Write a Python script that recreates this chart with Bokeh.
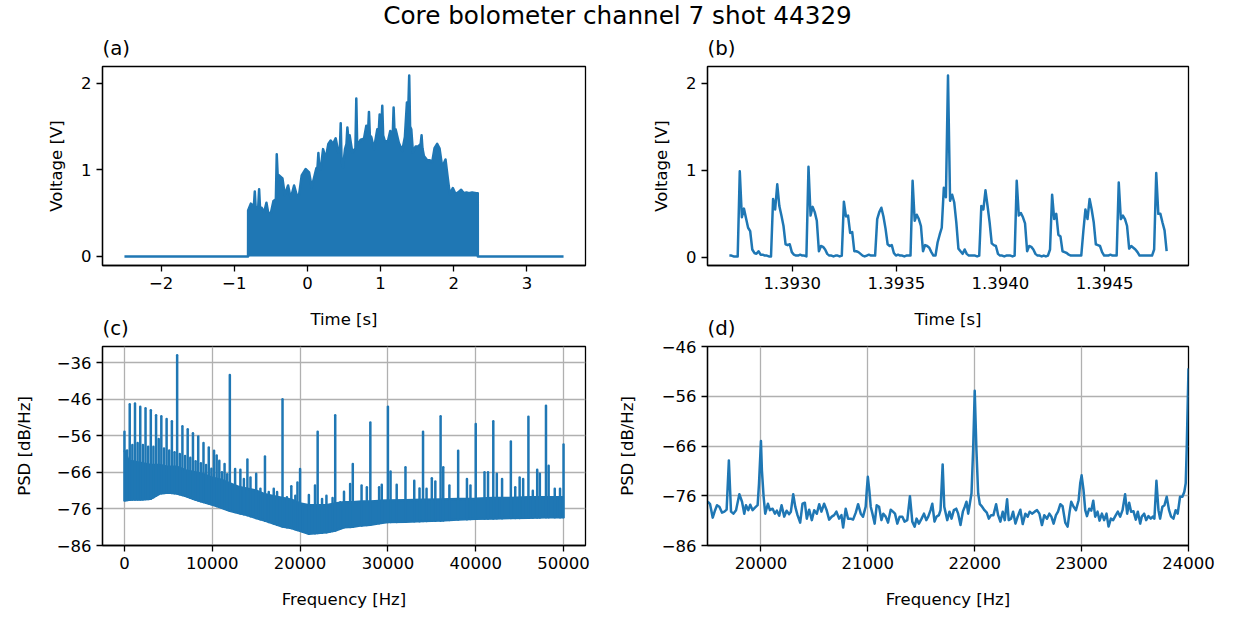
import numpy as np
from bokeh.plotting import figure
from bokeh.layouts import column, row
from bokeh.models import Range1d, FixedTicker, CustomJSTickFormatter, Label
from bokeh.embed import file_html
from bokeh.resources import INLINE

BLUE = "#1f77b4"
FONT = "DejaVu Sans"
TICK_PX = "16.5px"
TITLE_PX = "19.8px"
SUPTITLE_PX = "24.7px"
LW = 2.5

SUPTITLE = "Core bolometer channel 7 shot 44329"

# ---------------- (a) full shot: envelope of the bolometer burst ----------------
a_time = [-2.5, -0.811, -0.810, -0.773, -0.742, -0.730, -0.719, -0.708, -0.696, -0.672,
          -0.660, -0.648, -0.623, -0.591, -0.560, -0.537, -0.500, -0.464, -0.431, -0.419,
          -0.407, -0.387, -0.341, -0.309, -0.264, -0.228, -0.182, -0.146, -0.114, -0.078,
          -0.023, 0.023, 0.059, 0.091, 0.123, 0.138, 0.150, 0.162, 0.182, 0.214,
          0.250, 0.286, 0.318, 0.350, 0.386, 0.423, 0.443, 0.455, 0.467, 0.486,
          0.514, 0.534, 0.546, 0.558, 0.577, 0.614, 0.656, 0.668, 0.680, 0.696,
          0.728, 0.773, 0.805, 0.829, 0.841, 0.853, 0.873, 0.909, 0.955, 0.975,
          0.987, 1.011, 1.023, 1.035, 1.059, 1.100, 1.132, 1.166, 1.178, 1.190,
          1.205, 1.250, 1.296, 1.332, 1.360, 1.380, 1.391, 1.403, 1.419, 1.442,
          1.478, 1.514, 1.548, 1.560, 1.572, 1.592, 1.637, 1.673, 1.705, 1.737,
          1.773, 1.805, 1.842, 1.887, 1.919, 1.946, 1.987, 2.024, 2.060, 2.101,
          2.137, 2.174, 2.206, 2.251, 2.306, 2.328, 2.329, 3.5]
a_volt = [0.0, 0.0, 0.53, 0.61, 0.59, 0.60, 0.75, 0.58, 0.56, 0.57,
          0.775, 0.57, 0.56, 0.51, 0.62, 0.51, 0.50, 0.64, 0.66, 1.18,
          0.95, 0.935, 0.90, 0.71, 0.82, 0.67, 0.82, 0.71, 0.71, 0.935,
          1.01, 0.97, 0.80, 0.91, 1.02, 1.03, 1.195, 1.02, 1.01, 1.24,
          1.13, 1.30, 1.34, 1.30, 1.365, 1.20, 1.22, 1.54, 1.10, 1.03,
          1.24, 1.30, 1.49, 1.38, 1.40, 1.20, 1.25, 1.824, 1.30, 1.30,
          1.35, 1.36, 1.51, 1.45, 1.67, 1.40, 1.38, 1.24, 1.47, 1.45,
          1.64, 1.50, 1.74, 1.40, 1.33, 1.33, 1.45, 1.40, 1.72, 1.45,
          1.47, 1.31, 1.22, 1.38, 1.78, 1.75, 2.09, 1.50, 1.47, 1.20,
          1.27, 1.27, 1.30, 1.40, 1.25, 1.16, 1.11, 1.11, 1.09, 1.25,
          1.30, 1.25, 1.03, 1.12, 0.90, 0.72, 0.79, 0.72, 0.74, 0.77,
          0.73, 0.74, 0.73, 0.74, 0.73, 0.73, 0.0, 0.0]

# ---------------- (b) zoom: samples every 10 us ----------------
b_t0 = 1.392698
b_dt = 1.0e-5
b_volt = [0.02, 0.02, 0.01, 0.01, 0.01, 0.99, 0.46, 0.56, 0.45, 0.34, 0.30, 0.09, 0.05, 0.04, 0.07, 0.03, 0.03, 0.02, 0.02, 0.01, 0.01,
          0.67, 0.55, 0.84, 0.59, 0.48, 0.36, 0.15, 0.14, 0.15, 0.06, 0.03, 0.02, 0.02, 0.03, 0.02, 0.02, 0.01,
          1.04, 0.48, 0.58, 0.52, 0.42, 0.07, 0.13, 0.12, 0.09, 0.04, 0.02, 0.02, 0.01, 0.02, 0.02, 0.01, 0.02,
          0.64, 0.47, 0.48, 0.28, 0.29, 0.07, 0.07, 0.06, 0.04, 0.02, 0.01, 0.02, 0.03, 0.02, 0.02, 0.02,
          0.44, 0.52, 0.57, 0.47, 0.33, 0.15, 0.13, 0.14, 0.05, 0.02, 0.03, 0.02, 0.02, 0.01, 0.02, 0.02, 0.02,
          0.88, 0.42, 0.49, 0.44, 0.36, 0.07, 0.14, 0.13, 0.11, 0.06, 0.02, 0.02,
          0.17, 0.26, 0.34, 0.80, 0.69, 2.09, 0.65, 0.72, 0.63, 0.40, 0.10, 0.07, 0.04, 0.09, 0.04, 0.02, 0.02, 0.02, 0.02, 0.01, 0.02,
          0.59, 0.55, 0.77, 0.59, 0.40, 0.16, 0.14, 0.13, 0.04, 0.02, 0.02, 0.01, 0.02, 0.02, 0.02, 0.01, 0.02,
          0.88, 0.48, 0.51, 0.46, 0.39, 0.07, 0.13, 0.12, 0.09, 0.04, 0.02, 0.02, 0.01, 0.02, 0.01, 0.02, 0.09,
          0.72, 0.44, 0.50, 0.26, 0.24, 0.07, 0.06, 0.05, 0.03, 0.02, 0.02, 0.02, 0.02, 0.02, 0.02, 0.30,
          0.55, 0.44, 0.67, 0.55, 0.40, 0.15, 0.14, 0.13, 0.06, 0.02, 0.02, 0.02, 0.03, 0.02, 0.02, 0.02,
          0.86, 0.44, 0.48, 0.44, 0.36, 0.10, 0.13, 0.11, 0.09, 0.06, 0.02, 0.02, 0.02, 0.02, 0.02, 0.02, 0.02, 0.09,
          0.97, 0.50, 0.50, 0.40, 0.31, 0.07]
b_time = b_t0 + b_dt * np.arange(len(b_volt))

# ---------------- (c) PSD 0-50 kHz: noise band + harmonic lines ----------------
c_band_freq = [0, 500, 1000, 2000, 3000, 4000, 5000, 6000, 7000, 8000, 9000, 10000, 11000, 12000,
               13000, 14000, 15000, 16000, 17000, 18000, 19000, 20000, 21000, 22000, 23000, 24000,
               25000, 26000, 27000, 28000, 29000, 30000, 32000, 34000, 36000, 38000, 40000, 42000,
               44000, 46000, 48000, 50000]
c_band_low = [-73.7, -73.5, -73.4, -73.4, -73.2, -71.8, -71.5, -71.8, -72.5, -73.4, -74.1, -74.8, -75.6, -76.5,
              -77.1, -77.7, -78.5, -79.2, -80.0, -80.8, -81.2, -82.0, -82.8, -82.6, -82.4, -81.9,
              -81.0, -80.9, -80.5, -80.3, -79.9, -79.6, -79.5, -79.3, -79.2, -78.9, -78.7, -78.6,
              -78.5, -78.4, -78.3, -78.3]
c_band_high = [-60.0, -63.0, -63.0, -63.5, -64.0, -64.0, -64.5, -64.5, -65.5, -66.0, -66.5, -67.5, -68.0, -69.0,
               -70.0, -70.5, -71.0, -72.0, -72.5, -73.0, -73.5, -74.5, -75.0, -75.0, -75.0, -74.5,
               -74.2, -74.2, -74.0, -74.0, -73.8, -73.7, -73.6, -73.5, -73.4, -73.3, -73.2, -73.0,
               -73.0, -72.8, -72.8, -72.8]
c_peak_freq = [0, 600, 1200, 1800, 2400, 3000, 3600, 4200, 4800, 5400, 6000, 6600, 7200, 7800, 8400,
               9000, 9600, 10200, 10800, 11400, 12000, 12600, 13200,
               14000, 15000, 16000, 17000, 18000, 19000, 20000, 21000, 22000, 23000, 24000, 25000,
               26000, 27000, 28000, 29000, 30000, 31000, 32000, 33000, 34000, 35000, 36000, 37000,
               38000, 39000, 40000, 41000, 42000, 43000, 44000, 45000, 46000, 47000, 48000, 49000, 50000]
c_peak_db = [-54.9, -47.4, -47.2, -48.1, -48.5, -49.0, -50.4, -50.7, -51.4, -52.0, -34.0, -53.4, -54.2, -55.3, -56.2,
             -58.0, -59.2, -60.1, -62.8, -63.7, -39.4, -65.1, -65.3,
             -62.5, -66.4, -61.7, -70.5, -46.0, -69.8, -65.1, -72.2, -54.9, -72.4, -50.4, -71.3,
             -63.7, -69.6, -52.4, -70.1, -48.1, -69.4, -64.6, -68.3, -54.9, -67.6, -50.7, -69.6,
             -60.1, -67.8, -52.8, -66.0, -52.0, -67.8, -57.6, -67.4, -50.8, -65.3, -47.8, -70.5, -58.4]
c_minor_freq = [300, 900, 1500, 2100, 2700, 3300, 3900, 4500, 5100, 5700, 6300, 6900, 7500, 8100, 8700,
                9300, 9900, 10500, 11100, 11700,
                13600, 14350, 15480, 16430, 17380, 18500, 19460, 19700, 20300, 21700, 22500, 23400, 23700,
                24580, 25700, 27600, 29300, 30300, 33600, 34400, 35400, 36300, 39400, 41400, 42400,
                44500, 45400, 46500, 47300, 48300, 49600]
c_minor_db = [-60.0, -58.5, -58.0, -58.5, -59.0, -59.0, -56.9, -59.5, -60.0, -60.5, -61.0, -61.5, -62.0, -63.0, -63.5,
              -64.0, -65.0, -61.4, -66.0, -66.5,
              -67.8, -67.4, -70.5, -71.4, -71.4, -72.8, -72.4, -68.8, -75.7, -69.6, -73.3, -75.7, -73.0,
              -74.2, -69.2, -70.1, -69.4, -65.8, -70.4, -70.5, -68.5, -64.6, -69.6, -66.0, -66.4,
              -70.1, -67.8, -71.0, -66.4, -64.2, -70.5]

# ---------------- (d) PSD zoom 19.5-24 kHz ----------------
d_freq = [19502, 19524, 19549, 19571, 19589, 19611, 19636, 19658, 19679, 19700, 19720, 19742, 19767, 19798,
          19823, 19844, 19860, 19882, 19900, 19922, 19944, 19969, 19982, 20000, 20009, 20025, 20040, 20065,
          20084, 20109, 20131, 20149, 20171, 20193, 20218, 20240, 20264, 20280, 20302, 20321, 20342, 20367,
          20389, 20411, 20429, 20451, 20476, 20498, 20523, 20545, 20566, 20591, 20613, 20638, 20663, 20685,
          20706, 20731, 20753, 20769, 20793, 20815, 20840, 20862, 20887, 20909, 20934, 20955, 20980, 20990,
          21000, 21014, 21027, 21043, 21064, 21083, 21105, 21127, 21145, 21167, 21189, 21214, 21235, 21254,
          21276, 21298, 21323, 21344, 21369, 21394, 21416, 21438, 21456, 21478, 21503, 21525, 21547, 21565,
          21587, 21603, 21624, 21643, 21665, 21680, 21700, 21715, 21743, 21764, 21783, 21805, 21827, 21845,
          21867, 21889, 21907, 21923, 21939, 21954, 21970, 21985, 22000, 22016, 22032, 22048, 22069, 22091,
          22113, 22132, 22153, 22175, 22200, 22219, 22240, 22262, 22281, 22303, 22318, 22340, 22359, 22381,
          22402, 22427, 22449, 22474, 22496, 22514, 22536, 22561, 22583, 22605, 22629, 22651, 22676, 22698,
          22717, 22738, 22760, 22779, 22801, 22822, 22847, 22869, 22888, 22903, 22925, 22947, 22972, 22987,
          23000, 23018, 23034, 23050, 23071, 23090, 23109, 23127, 23149, 23168, 23190, 23211, 23233, 23252,
          23274, 23295, 23320, 23339, 23361, 23383, 23407, 23426, 23445, 23463, 23485, 23507, 23526, 23548,
          23563, 23585, 23604, 23625, 23647, 23666, 23681, 23700, 23719, 23734, 23756, 23775, 23796, 23818,
          23837, 23859, 23880, 23899, 23921, 23943, 23961, 23974, 23983, 24000]
d_psd = [-77.2, -77.7, -80.4, -78.9, -77.9, -78.2, -79.4, -79.2, -78.8, -68.9, -79.2, -79.6, -78.9, -75.7,
         -77.2, -79.6, -77.9, -78.9, -77.8, -78.9, -78.4, -77.9, -73.5, -65.0, -70.9, -76.2, -79.6, -77.6,
         -78.9, -78.6, -79.6, -79.0, -80.0, -77.9, -80.2, -79.0, -79.7, -79.2, -75.7, -78.2, -79.9, -81.4,
         -77.6, -77.4, -80.6, -78.8, -80.9, -78.9, -79.6, -77.7, -79.2, -77.6, -78.8, -80.8, -80.2, -79.9,
         -79.2, -80.6, -79.9, -82.4, -78.6, -80.6, -80.6, -80.8, -79.4, -77.7, -79.6, -80.2, -78.2, -74.9,
         -72.2, -74.9, -78.2, -79.6, -81.6, -77.9, -78.2, -80.9, -79.6, -80.2, -81.4, -78.8, -79.2, -79.6,
         -81.6, -80.2, -80.2, -81.2, -80.9, -76.1, -81.2, -82.2, -80.6, -81.6, -80.6, -79.6, -80.9, -80.2,
         -78.9, -77.6, -81.2, -80.2, -79.9, -78.9, -69.7, -78.2, -80.9, -79.2, -80.6, -78.9, -78.6, -79.6,
         -81.9, -79.2, -78.2, -77.2, -79.6, -77.6, -75.5, -66.8, -54.9, -66.8, -75.5, -77.7, -78.2, -78.9,
         -79.4, -80.6, -79.9, -79.9, -77.7, -79.9, -81.2, -79.2, -80.9, -76.7, -80.9, -80.6, -79.2, -81.6,
         -80.2, -78.8, -81.7, -79.6, -80.2, -79.2, -79.6, -79.2, -78.9, -79.6, -81.9, -79.9, -80.6, -79.6,
         -80.2, -81.6, -79.9, -79.2, -77.7, -78.1, -81.4, -82.2, -79.2, -77.2, -78.2, -78.9, -76.9, -73.5,
         -71.9, -74.9, -78.9, -80.1, -78.6, -79.0, -77.0, -80.2, -79.2, -81.0, -79.6, -80.9, -79.6, -82.2,
         -80.6, -80.9, -79.9, -79.2, -80.2, -78.9, -75.7, -79.6, -77.4, -79.2, -79.1, -80.8, -79.2, -81.6,
         -80.2, -79.6, -80.9, -80.1, -80.6, -80.2, -80.6, -73.0, -78.9, -80.6, -78.2, -77.9, -76.2, -78.9,
         -80.2, -80.6, -78.9, -79.6, -76.2, -76.2, -75.2, -73.5, -66.8, -50.4]

# tick positions
a_xticks = [-2, -1, 0, 1, 2, 3]
v_yticks = [0, 1, 2]
b_xticks = [1.3930, 1.3935, 1.3940, 1.3945]
c_xticks = [0, 10000, 20000, 30000, 40000, 50000]
c_yticks = [-86, -76, -66, -56, -46, -36]
d_xticks = [20000, 21000, 22000, 23000, 24000]
d_yticks = [-86, -76, -66, -56, -46]


def margin_range(vals, frac=0.05):
    lo, hi = float(np.min(vals)), float(np.max(vals))
    d = (hi - lo) * frac
    return lo - d, hi + d


def minus_fmt():
    return CustomJSTickFormatter(code="return (tick < 0 ? '\\u2212' : '') + Math.abs(tick).toString();")


def style(p, title, xlabel, ylabel, xticks, yticks, grid=False):
    p.title.text = title
    p.title.text_font = FONT
    p.title.text_font_size = TITLE_PX
    p.title.text_font_style = "normal"
    p.title.text_color = "black"
    p.title.align = "left"
    p.title.standoff = 13
    p.outline_line_color = "black"
    p.outline_line_width = 1.3
    p.outline_line_alpha = 1.0
    p.xaxis.axis_label = xlabel
    p.yaxis.axis_label = ylabel
    p.xaxis.ticker = FixedTicker(ticks=xticks)
    p.yaxis.ticker = FixedTicker(ticks=yticks)
    for ax in list(p.xaxis) + list(p.yaxis):
        ax.axis_line_color = "black"
        ax.axis_line_width = 1.3
        ax.major_tick_line_color = "black"
        ax.major_tick_line_width = 1.3
        ax.major_tick_in = 0
        ax.major_tick_out = 6
        ax.minor_tick_line_color = None
        ax.major_label_text_font = FONT
        ax.major_label_text_font_size = TICK_PX
        ax.major_label_text_color = "black"
        ax.major_label_standoff = 5
        ax.axis_label_text_font = FONT
        ax.axis_label_text_font_size = TICK_PX
        ax.axis_label_text_font_style = "normal"
        ax.axis_label_text_color = "black"
    p.xaxis.axis_label_standoff = 18
    if grid:
        for g in (p.xgrid[0], p.ygrid[0]):
            g.grid_line_color = "#b0b0b0"
            g.grid_line_width = 1.3
    else:
        p.xgrid.visible = False
        p.ygrid.visible = False


# ---- title strip (frame = whole strip, y in pixels from the bottom) ----
pt = figure(width=1234, height=32, toolbar_location=None, output_backend="svg",
            min_border_left=0, min_border_right=0, min_border_top=0, min_border_bottom=0,
            x_range=Range1d(0, 1), y_range=Range1d(0, 32))
pt.title.text = ""
pt.axis.visible = False
pt.grid.visible = False
pt.outline_line_color = None
pt.add_layout(Label(x=0.5, y=17.5, text=SUPTITLE, text_font=FONT, text_font_size=SUPTITLE_PX,
                    text_color="black", text_align="center", text_baseline="middle"))

TOP = 42
BOT = 72
ROW_H = TOP + 199 + BOT

# ---- (a) ----
a_xr = margin_range(a_time)
a_yr = margin_range(a_volt)
pa = figure(width=600, height=ROW_H, x_range=Range1d(*a_xr), y_range=Range1d(*a_yr),
            min_border_left=102, min_border_right=15, min_border_top=TOP, min_border_bottom=BOT,
            toolbar_location=None, output_backend="svg", border_fill_color=None)
pa.varea(x=a_time, y1=0, y2=a_volt, color=BLUE)
pa.line(a_time, a_volt, line_width=LW, color=BLUE, line_join="round")
style(pa, "(a)", "Time [s]", "Voltage [V]", a_xticks, v_yticks)
pa.xaxis.formatter = minus_fmt()
pa.yaxis.axis_label_standoff = 12

# ---- (b) ----
b_xr = margin_range(b_time)
b_yr = margin_range(b_volt)
pb = figure(width=634, height=ROW_H, x_range=Range1d(*b_xr), y_range=Range1d(*b_yr),
            min_border_left=107, min_border_right=46, min_border_top=TOP, min_border_bottom=BOT,
            toolbar_location=None, output_backend="svg", border_fill_color=None)
pb.line(b_time, b_volt, line_width=LW, color=BLUE, line_join="round")
style(pb, "(b)", "Time [s]", "Voltage [V]", b_xticks, v_yticks)
pb.xaxis.formatter = CustomJSTickFormatter(code="return tick.toFixed(4);")
pb.yaxis.axis_label_standoff = 12

# ---- (c) ----
pc = figure(width=600, height=ROW_H, x_range=Range1d(-2500, 52500), y_range=Range1d(-86, -31.6),
            min_border_left=102, min_border_right=15, min_border_top=TOP, min_border_bottom=BOT,
            toolbar_location=None, output_backend="svg", border_fill_color=None)
style(pc, "(c)", "Frequency [Hz]", "PSD [dB/Hz]", c_xticks, c_yticks, grid=True)
pc.varea(x=c_band_freq, y1=c_band_low, y2=c_band_high, color=BLUE)
pc.line(c_band_freq, c_band_low, line_width=LW, color=BLUE)
pc.line(c_band_freq, c_band_high, line_width=LW, color=BLUE)
c_minor_base = np.interp(c_minor_freq, c_band_freq, c_band_low)
pc.segment(x0=c_minor_freq, y0=c_minor_base, x1=c_minor_freq, y1=c_minor_db,
           line_width=LW, color=BLUE, line_cap="round")
c_peak_base = np.interp(c_peak_freq, c_band_freq, c_band_low)
pc.segment(x0=c_peak_freq, y0=c_peak_base, x1=c_peak_freq, y1=c_peak_db,
           line_width=LW, color=BLUE, line_cap="round")
pc.yaxis.formatter = minus_fmt()
pc.yaxis.axis_label_standoff = 20

# ---- (d) ----
pd = figure(width=634, height=ROW_H, x_range=Range1d(19500, 24000), y_range=Range1d(-86, -46),
            min_border_left=107, min_border_right=46, min_border_top=TOP, min_border_bottom=BOT,
            toolbar_location=None, output_backend="svg", border_fill_color=None)
style(pd, "(d)", "Frequency [Hz]", "PSD [dB/Hz]", d_xticks, d_yticks, grid=True)
pd.line(d_freq, d_psd, line_width=LW, color=BLUE, line_join="round")
pd.yaxis.formatter = minus_fmt()
pd.yaxis.axis_label_standoff = 22

# rows overlap slightly (transparent borders) so panel letters sit level with the axis labels above
layout = column(pt,
                row(pa, pb, margin=(-8, 0, 0, 0)),
                row(pc, pd, margin=(-33, 0, 0, 0)))
open("out.html", "w").write(file_html(layout, INLINE))
